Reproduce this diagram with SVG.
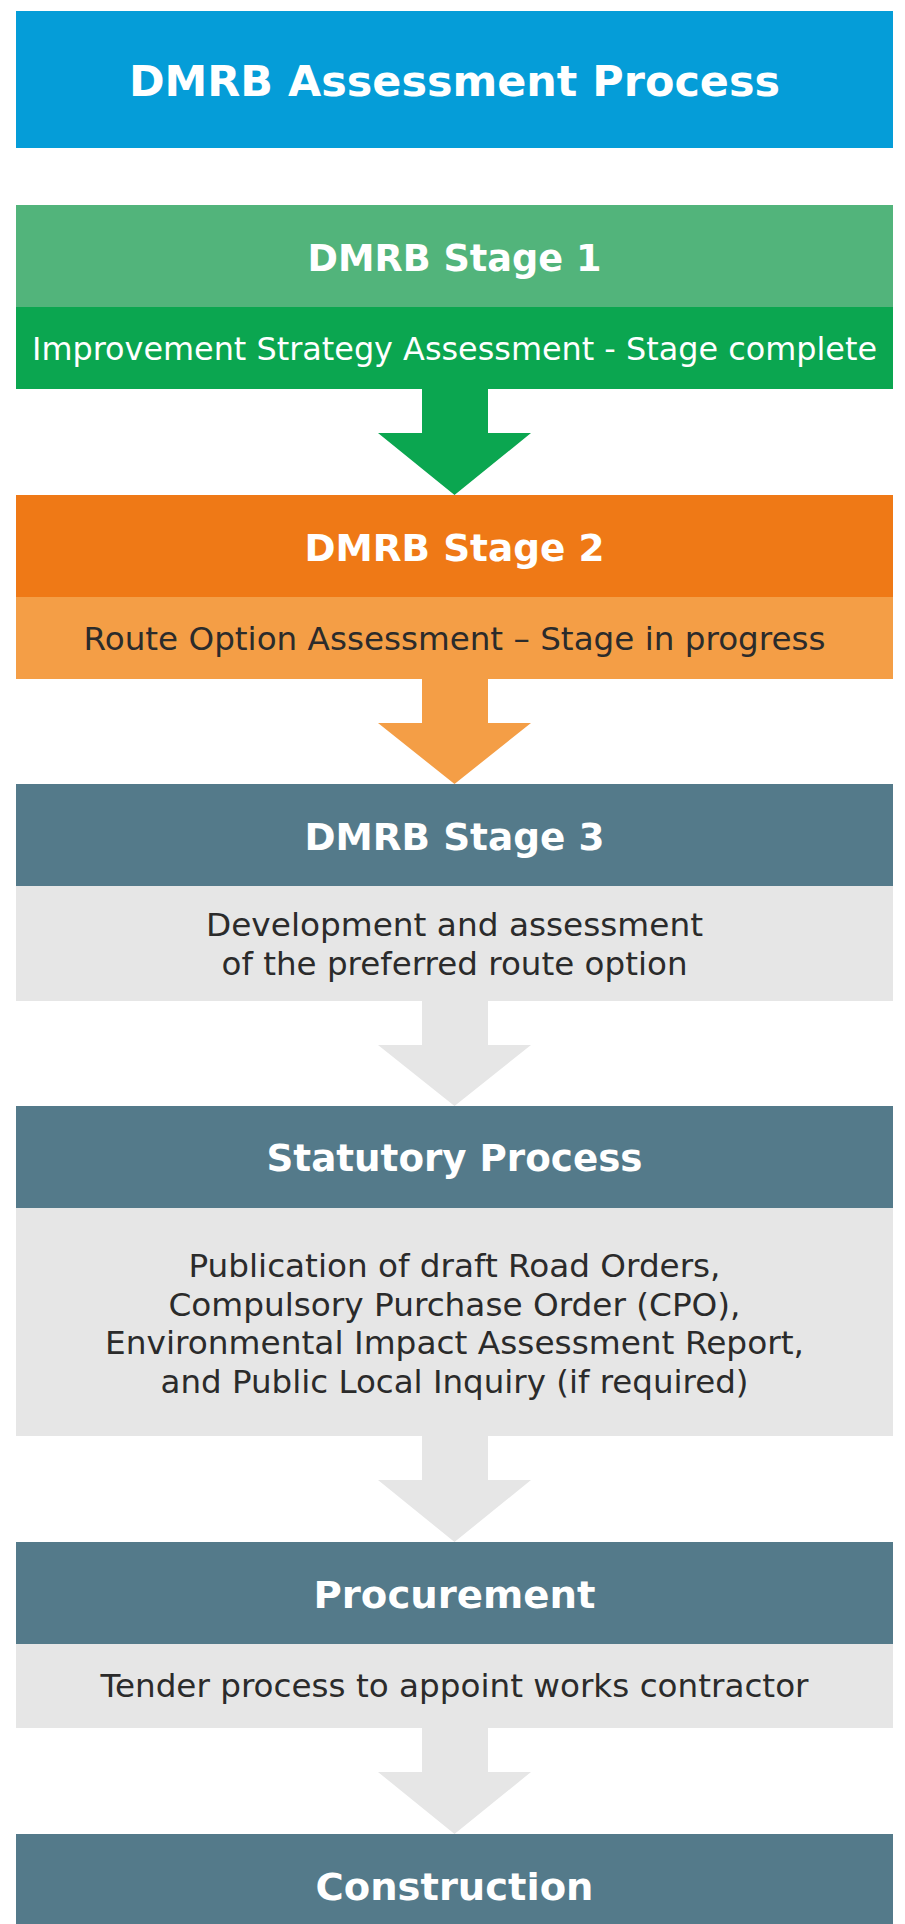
<svg xmlns="http://www.w3.org/2000/svg" width="905" height="1924" viewBox="0 0 905 1924">
  <style>
    text { font-family: "DejaVu Sans", "Liberation Sans", sans-serif; text-anchor: middle; }
    .title { font-size: 43px; font-weight: bold; fill: #ffffff; }
    .head { font-size: 38px; font-weight: bold; fill: #ffffff; }
    .sub { font-size: 32px; fill: #2b2b2b; }
    .subw { font-size: 32px; fill: #ffffff; }
    .slate { fill: #547A8A; }
    .grey { fill: #E6E6E6; }
  </style>
  <rect width="905" height="1924" fill="#ffffff"/>

  <g id="connectors">
    <polygon points="422,388 488,388 488,433 531,433 454.5,495 378,433 422,433" fill="#0BA650"/>
    <polygon points="422,678 488,678 488,723 531,723 454.5,784 378,723 422,723" fill="#F49E46"/>
    <polygon points="422,1000 488,1000 488,1045 531,1045 454.5,1106 378,1045 422,1045" fill="#E6E6E6"/>
    <polygon points="422,1435 488,1435 488,1480 531,1480 454.5,1542 378,1480 422,1480" fill="#E6E6E6"/>
    <polygon points="422,1727 488,1727 488,1772 531,1772 454.5,1834 378,1772 422,1772" fill="#E6E6E6"/>
  </g>

  <g id="title">
    <rect x="16" y="11" width="877" height="137" fill="#059DD8"/>
    <text class="title" x="454.5" y="96" textLength="651" lengthAdjust="spacingAndGlyphs">DMRB Assessment Process</text>
  </g>

  <g id="stage1">
    <rect x="16" y="205" width="877" height="102" fill="#52B47B"/>
    <rect x="16" y="307" width="877" height="82" fill="#0BA650"/>
    <text class="head" x="454.5" y="271" textLength="294" lengthAdjust="spacingAndGlyphs">DMRB Stage 1</text>
    <text class="subw" x="454.5" y="360" textLength="845" lengthAdjust="spacingAndGlyphs">Improvement Strategy Assessment - Stage complete</text>
  </g>

  <g id="stage2">
    <rect x="16" y="495" width="877" height="102" fill="#EF7916"/>
    <rect x="16" y="597" width="877" height="82" fill="#F49E46"/>
    <text class="head" x="454.5" y="561" textLength="300" lengthAdjust="spacingAndGlyphs">DMRB Stage 2</text>
    <text class="sub" x="454.5" y="650" textLength="742" lengthAdjust="spacingAndGlyphs">Route Option Assessment – Stage in progress</text>
  </g>

  <g id="stage3">
    <rect class="slate" x="16" y="784" width="877" height="102"/>
    <rect class="grey" x="16" y="886" width="877" height="115"/>
    <text class="head" x="454.5" y="850" textLength="300" lengthAdjust="spacingAndGlyphs">DMRB Stage 3</text>
    <text class="sub" x="454.5" y="936" textLength="497" lengthAdjust="spacingAndGlyphs">Development and assessment</text>
    <text class="sub" x="454.5" y="975" textLength="466" lengthAdjust="spacingAndGlyphs">of the preferred route option</text>
  </g>

  <g id="statutory">
    <rect class="slate" x="16" y="1106" width="877" height="102"/>
    <rect class="grey" x="16" y="1208" width="877" height="228"/>
    <text class="head" x="454.5" y="1171" textLength="376" lengthAdjust="spacingAndGlyphs">Statutory Process</text>
    <text class="sub" x="454.5" y="1277" textLength="532" lengthAdjust="spacingAndGlyphs">Publication of draft Road Orders,</text>
    <text class="sub" x="454.5" y="1316" textLength="572" lengthAdjust="spacingAndGlyphs">Compulsory Purchase Order (CPO),</text>
    <text class="sub" x="454.5" y="1354" textLength="699" lengthAdjust="spacingAndGlyphs">Environmental Impact Assessment Report,</text>
    <text class="sub" x="454.5" y="1393" textLength="588" lengthAdjust="spacingAndGlyphs">and Public Local Inquiry (if required)</text>
  </g>

  <g id="procurement">
    <rect class="slate" x="16" y="1542" width="877" height="102"/>
    <rect class="grey" x="16" y="1644" width="877" height="84"/>
    <text class="head" x="454.5" y="1608" textLength="282" lengthAdjust="spacingAndGlyphs">Procurement</text>
    <text class="sub" x="454.5" y="1697" textLength="708" lengthAdjust="spacingAndGlyphs">Tender process to appoint works contractor</text>
  </g>

  <g id="construction">
    <rect class="slate" x="16" y="1834" width="877" height="90"/>
    <text class="head" x="454.5" y="1900" textLength="278" lengthAdjust="spacingAndGlyphs">Construction</text>
  </g>
</svg>
